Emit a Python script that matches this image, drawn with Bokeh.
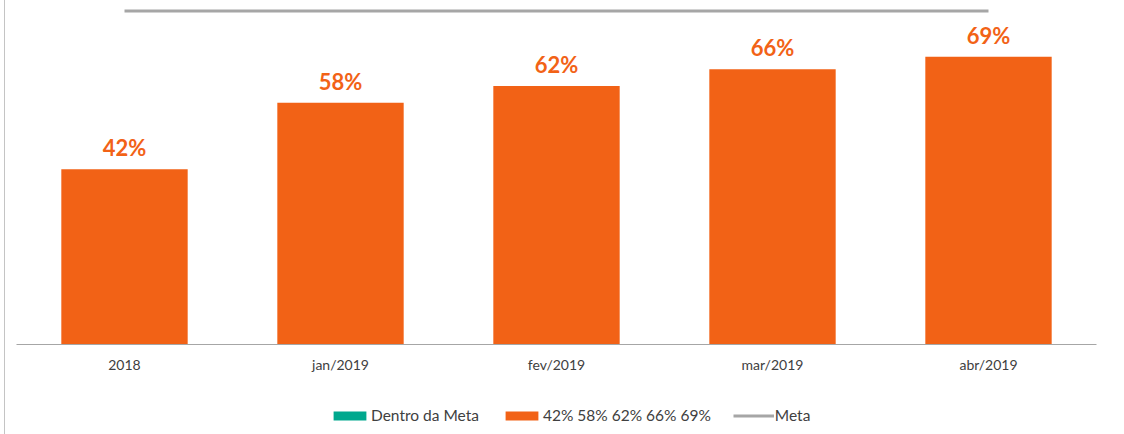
from bokeh.plotting import figure
from bokeh.layouts import column
from bokeh.core.properties import value
from bokeh.models import ColumnDataSource, LabelSet, Legend, LegendItem, FactorRange, Range1d
from bokeh.embed import file_html
from bokeh.resources import INLINE

# Chart data
categories = ["2018", "jan/2019", "fev/2019", "mar/2019", "abr/2019"]
values = [42, 58, 62, 66, 69]
meta = [80, 80, 80, 80, 80]
dentro_values = [0, 0, 0, 0, 0]

ORANGE = "#f26216"
GREEN = "#00a88e"
GRAY = "#a6a6a6"
TEXT = "#404040"
FONT = "Lato"
BORDER = {"border-left": "1px solid #c4c4c4", "margin-left": "4px"}

labels = [f"{v}%" for v in values]
series_name = " ".join(labels)

src = ColumnDataSource(dict(cat=categories, val=values, lab=labels))
src_dentro = ColumnDataSource(dict(cat=categories, val=dentro_values))
src_meta = ColumnDataSource(dict(cat=categories, val=meta))

x_range = FactorRange(*categories, range_padding=0)


def add_series(fig):
    r_d = fig.vbar(x="cat", top="val", width=0.585, source=src_dentro,
                   fill_color=GREEN, line_color=None)
    r_b = fig.vbar(x="cat", top="val", width=0.585, source=src,
                   fill_color=ORANGE, line_color=None)
    r_m = fig.line(x="cat", y="val", source=src_meta, line_color=GRAY, line_width=3)
    return r_d, r_b, r_m


# main chart
p = figure(
    x_range=x_range, y_range=(0, 82.5),
    width=1119, height=390,
    output_backend="svg", toolbar_location=None,
    min_border_left=11, min_border_right=28,
    min_border_top=0, min_border_bottom=46,
)
p.styles = BORDER
add_series(p)

p.add_layout(LabelSet(x="cat", y="val", text="lab", source=src,
                      text_align="center", text_baseline="alphabetic",
                      y_offset=13, text_color=ORANGE, text_font=value(FONT),
                      text_font_size="22px", text_font_style="bold"))

p.yaxis.visible = False
p.xgrid.grid_line_color = None
p.ygrid.grid_line_color = None
p.outline_line_color = None
p.xaxis.axis_line_color = GRAY
p.xaxis.axis_line_width = 1
p.xaxis.major_tick_line_color = None
p.xaxis.minor_tick_line_color = None
p.xaxis.major_tick_out = 0
p.xaxis.major_label_standoff = 11
p.xaxis.major_label_text_font = FONT
p.xaxis.major_label_text_font_size = "14px"
p.xaxis.major_label_text_color = TEXT

# legend strip underneath the chart
lg = figure(
    x_range=x_range, y_range=Range1d(1000, 1001),
    width=1119, height=44,
    output_backend="svg", toolbar_location=None,
    min_border=0, x_axis_location=None, y_axis_location=None,
)
lg.styles = BORDER
lg.grid.grid_line_color = None
lg.outline_line_color = None
r_dentro, r_bars, r_meta = add_series(lg)

legend = Legend(
    items=[
        LegendItem(label="Dentro da Meta", renderers=[r_dentro]),
        LegendItem(label=series_name, renderers=[r_bars]),
        LegendItem(label="Meta", renderers=[r_meta]),
    ],
    orientation="horizontal",
    location=(313, 10),
    glyph_width=41, glyph_height=11,
    label_standoff=1, spacing=22,
    padding=0, margin=0,
    border_line_color=None, background_fill_alpha=0,
    label_text_font=FONT, label_text_font_size="15.5px",
    label_text_color=TEXT,
)
lg.add_layout(legend, "center")

layout = column(p, lg, spacing=0)
open("out.html", "w").write(file_html(layout, INLINE))
